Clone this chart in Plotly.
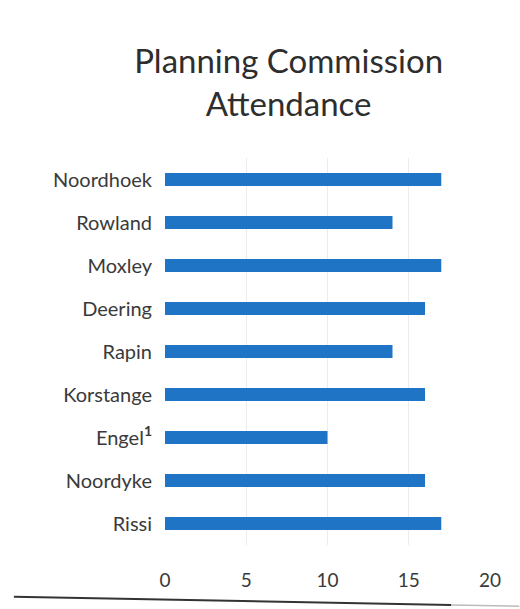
import plotly.graph_objects as go

# Meetings attended per commissioner
members = ["Noordhoek", "Rowland", "Moxley", "Deering", "Rapin",
           "Korstange", "Engel<sup><b>1</b></sup>", "Noordyke", "Rissi"]
attendance = [17, 14, 17, 16, 14, 16, 10, 16, 17]
x_ticks = [0, 5, 10, 15, 20]

font_family = "Lato, 'Open Sans', sans-serif"
text_color = "#3a3a3a"
bar_color = "#1f74c6"

fig = go.Figure(
    go.Bar(
        x=attendance,
        y=members,
        orientation="h",
        marker=dict(color=bar_color, line=dict(width=0)),
    )
)

fig.update_layout(
    width=520,
    height=609,
    paper_bgcolor="white",
    plot_bgcolor="white",
    margin=dict(l=165, r=30, t=158, b=64),
    bargap=0.7,
    showlegend=False,
    font=dict(family=font_family, color=text_color),
    title=dict(
        text="Planning Commission<br>Attendance",
        x=0.555,
        xanchor="center",
        xref="container",
        y=0.88,
        yanchor="top",
        yref="container",
        font=dict(size=33, color="#2e2e2e", family=font_family),
    ),
    xaxis=dict(
        range=[0, 20],
        tickvals=x_ticks,
        showgrid=True,
        gridcolor="#ececec",
        gridwidth=1,
        zeroline=False,
        showline=False,
        ticks="",
        ticklabelstandoff=22,
        tickfont=dict(size=19, color=text_color),
    ),
    yaxis=dict(
        categoryorder="array",
        categoryarray=members[::-1],
        showgrid=False,
        zeroline=False,
        showline=False,
        ticks="",
        ticklabelstandoff=12,
        tickfont=dict(size=20, color=text_color),
    ),
    shapes=[
        # edge of the page along the bottom
        dict(type="line", xref="paper", yref="paper",
             x0=-0.465, x1=0.88, y0=-0.134, y1=-0.155,
             line=dict(color="#333333", width=2)),
        dict(type="line", xref="paper", yref="paper",
             x0=0.88, x1=1.09, y0=-0.155, y1=-0.158,
             line=dict(color="#bbbbbb", width=1.5)),
    ],
)

fig.write_html("out.html")
